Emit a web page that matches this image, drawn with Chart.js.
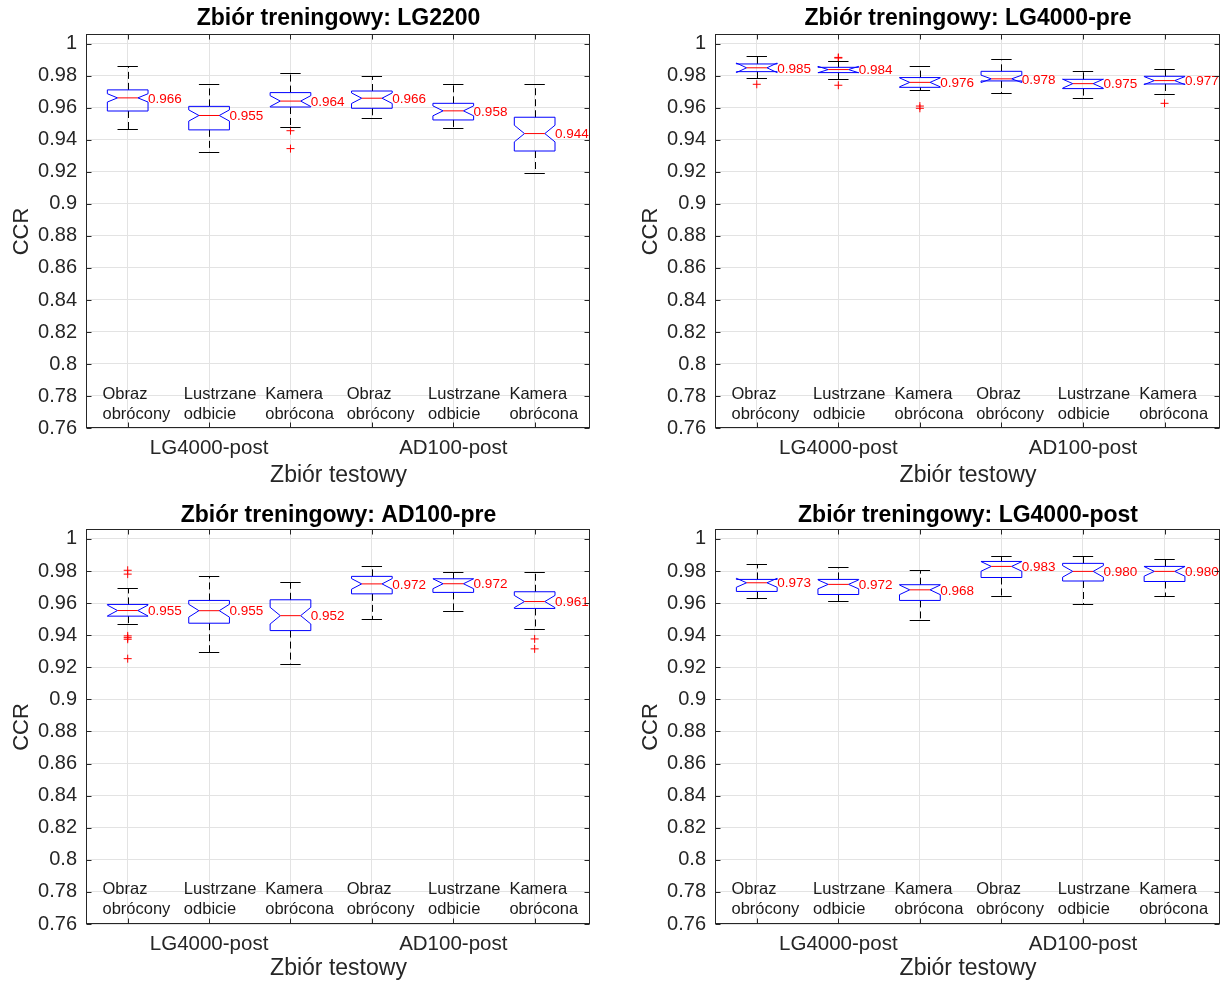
<!DOCTYPE html>
<html>
<head>
<meta charset="utf-8">
<script src="https://cdn.jsdelivr.net/npm/chart.js@4.4.0/dist/chart.umd.min.js"></script>
<style>
    html, body { margin: 0; padding: 0; background: #fff; overflow: hidden; }
    canvas { position: absolute; }
</style>
</head>
<body>
<canvas id="panel0"></canvas>
<canvas id="panel1"></canvas>
<canvas id="panel2"></canvas>
<canvas id="panel3"></canvas>
<script>
// categories (two text lines each) and group labels under the axis
const categories = [
    ['Obraz', 'obrócony'], ['Lustrzane', 'odbicie'], ['Kamera', 'obrócona'],
    ['Obraz', 'obrócony'], ['Lustrzane', 'odbicie'], ['Kamera', 'obrócona']
];
const groupLabels = ['LG4000-post', 'AD100-post'];
const yTicks = [0.76, 0.78, 0.8, 0.82, 0.84, 0.86, 0.88, 0.9, 0.92, 0.94, 0.96, 0.98, 1];
const titles = [
    'Zbiór treningowy: LG2200', 'Zbiór treningowy: LG4000-pre',
    'Zbiór treningowy: AD100-pre', 'Zbiór treningowy: LG4000-post'
];

// LG2200
const lg2200Hi = [0.9863, 0.9750, 0.9817, 0.9798, 0.9752, 0.9752];
const lg2200Q3 = [0.9713, 0.9610, 0.9696, 0.9706, 0.9629, 0.9542];
const lg2200Med = [0.9663, 0.9553, 0.9643, 0.9661, 0.9582, 0.9440];
const lg2200Q1 = [0.9581, 0.9463, 0.9606, 0.9598, 0.9525, 0.9331];
const lg2200Lo = [0.9469, 0.9327, 0.9483, 0.9535, 0.9473, 0.9192];
const lg2200Notch = [0.0026, 0.0035, 0.0034, 0.0033, 0.0031, 0.0052];
const lg2200Out = [[], [], [0.9458, 0.9346], [], [], []];

// LG4000-pre
const lg4000preHi = [0.9923, 0.9892, 0.9863, 0.9906, 0.9829, 0.9844];
const lg4000preQ3 = [0.9875, 0.9854, 0.9790, 0.9829, 0.9779, 0.9798];
const lg4000preMed = [0.9851, 0.9840, 0.9760, 0.9782, 0.9752, 0.9771];
const lg4000preQ1 = [0.9827, 0.9821, 0.9729, 0.9769, 0.9721, 0.9750];
const lg4000preLo = [0.9790, 0.9781, 0.9710, 0.9692, 0.9660, 0.9690];
const lg4000preNotch = [0.0030, 0.0020, 0.0028, 0.0023, 0.0028, 0.0025];
const lg4000preOut = [[0.9748], [0.9912, 0.9916, 0.9742], [0.9612, 0.9598], [], [], [0.9629]];

// AD100-pre
const ad100preHi = [0.9696, 0.9771, 0.9729, 0.9829, 0.9796, 0.9796];
const ad100preQ3 = [0.9592, 0.9617, 0.9621, 0.9767, 0.9752, 0.9671];
const ad100preMed = [0.9554, 0.9553, 0.9522, 0.9720, 0.9721, 0.9610];
const ad100preQ1 = [0.9519, 0.9475, 0.9429, 0.9658, 0.9667, 0.9567];
const ad100preLo = [0.9469, 0.9296, 0.9221, 0.9502, 0.9550, 0.9440];
const ad100preNotch = [0.0034, 0.0040, 0.0052, 0.0033, 0.0031, 0.0038];
const ad100preOut = [[0.9805, 0.9781, 0.9396, 0.9385, 0.9375, 0.9254], [], [], [], [], [0.9377, 0.9315]];

// LG4000-post
const lg4000postHi = [0.9844, 0.9827, 0.9808, 0.9892, 0.9892, 0.9877];
const lg4000postQ3 = [0.9748, 0.9748, 0.9715, 0.9860, 0.9848, 0.9829];
const lg4000postMed = [0.9727, 0.9717, 0.9683, 0.9829, 0.9798, 0.9798];
const lg4000postQ1 = [0.9673, 0.9654, 0.9617, 0.9760, 0.9738, 0.9735];
const lg4000postLo = [0.9631, 0.9615, 0.9492, 0.9644, 0.9596, 0.9644];
const lg4000postNotch = [0.0028, 0.0028, 0.0030, 0.0030, 0.0036, 0.0030];
const lg4000postOut = [[], [], [], [], [], []];

const FONT = "'Liberation Sans', Arial, Helvetica, sans-serif";
const AXIS_COLOR = '#262626';
const GRID_COLOR = '#e3e3e3';

const panels = [
    { id: 'panel0', left: 0, top: 0, w: 612, h: 490, area: { l: 87, t: 35, r: 590, b: 428 }, titleY: 19, ylabelX: 22,
      box: { hi: lg2200Hi, q3: lg2200Q3, med: lg2200Med, q1: lg2200Q1, lo: lg2200Lo, notch: lg2200Notch, out: lg2200Out } },
    { id: 'panel1', left: 612, top: 0, w: 613, h: 490, area: { l: 104, t: 35, r: 608, b: 428 }, titleY: 19, ylabelX: 39,
      box: { hi: lg4000preHi, q3: lg4000preQ3, med: lg4000preMed, q1: lg4000preQ1, lo: lg4000preLo, notch: lg4000preNotch, out: lg4000preOut } },
    { id: 'panel2', left: 0, top: 495, w: 612, h: 488, area: { l: 87, t: 35, r: 590, b: 429 }, titleY: 21, ylabelX: 22,
      box: { hi: ad100preHi, q3: ad100preQ3, med: ad100preMed, q1: ad100preQ1, lo: ad100preLo, notch: ad100preNotch, out: ad100preOut } },
    { id: 'panel3', left: 612, top: 495, w: 613, h: 488, area: { l: 104, t: 35, r: 608, b: 429 }, titleY: 21, ylabelX: 39,
      box: { hi: lg4000postHi, q3: lg4000postQ3, med: lg4000postMed, q1: lg4000postQ1, lo: lg4000postLo, notch: lg4000postNotch, out: lg4000postOut } }
];

const crisp = v => Math.round(v) + 0.5;

// draws notched boxes, whiskers, median labels, frame, inner ticks, category texts and title
const notchBoxPlugin = {
    id: 'notchBoxes',
    afterDatasetsDraw(chart, args, opts) {
        const { ctx, scales: { x, y } } = chart;
        const b = opts.box;
        ctx.save();
        ctx.lineWidth = 1;
        categories.forEach((cat, i) => {
            const c = i + 1;
            const xc = crisp(x.getPixelForValue(c));
            const xl = x.getPixelForValue(c - 0.25), xr = x.getPixelForValue(c + 0.25);
            const xil = x.getPixelForValue(c - 0.125), xir = x.getPixelForValue(c + 0.125);
            const yHi = crisp(y.getPixelForValue(b.hi[i])), yLo = crisp(y.getPixelForValue(b.lo[i]));
            const yQ3 = y.getPixelForValue(b.q3[i]), yQ1 = y.getPixelForValue(b.q1[i]);
            const yMed = y.getPixelForValue(b.med[i]);
            const yNhi = y.getPixelForValue(b.med[i] + b.notch[i]);
            const yNlo = y.getPixelForValue(b.med[i] - b.notch[i]);

            // whiskers
            ctx.strokeStyle = '#000';
            ctx.setLineDash([7, 4]);
            ctx.beginPath();
            ctx.moveTo(xc, yQ3); ctx.lineTo(xc, yHi);
            ctx.moveTo(xc, yQ1); ctx.lineTo(xc, yLo);
            ctx.stroke();
            ctx.setLineDash([]);
            ctx.beginPath();
            ctx.moveTo(xil, yHi); ctx.lineTo(xir, yHi);
            ctx.moveTo(xil, yLo); ctx.lineTo(xir, yLo);
            ctx.stroke();

            // notched box
            ctx.strokeStyle = '#0000ff';
            ctx.beginPath();
            ctx.moveTo(xl, yQ1);
            ctx.lineTo(xl, yNlo);
            ctx.lineTo(xil, yMed);
            ctx.lineTo(xl, yNhi);
            ctx.lineTo(xl, yQ3);
            ctx.lineTo(xr, yQ3);
            ctx.lineTo(xr, yNhi);
            ctx.lineTo(xir, yMed);
            ctx.lineTo(xr, yNlo);
            ctx.lineTo(xr, yQ1);
            ctx.closePath();
            ctx.stroke();

            // median
            ctx.strokeStyle = '#ff0000';
            ctx.beginPath();
            ctx.moveTo(xil, yMed); ctx.lineTo(xir, yMed);
            ctx.stroke();

            ctx.fillStyle = '#ff0000';
            ctx.font = '13.5px ' + FONT;
            ctx.textAlign = 'left';
            ctx.textBaseline = 'middle';
            ctx.fillText(b.med[i].toFixed(3), xr, yMed + 1);
        });
        ctx.restore();
    },
    afterDraw(chart, args, opts) {
        const { ctx, chartArea: a, scales: { x, y } } = chart;
        ctx.save();
        ctx.strokeStyle = AXIS_COLOR;
        ctx.lineWidth = 1;
        const L = crisp(a.left) - 1, R = crisp(a.right) - 1, T = crisp(a.top) - 1, B = crisp(a.bottom) - 1;
        ctx.strokeRect(L, T, R - L, B - T);
        ctx.beginPath();
        yTicks.forEach(v => {
            const py = crisp(y.getPixelForValue(v));
            ctx.moveTo(L, py); ctx.lineTo(L + 5, py);
            ctx.moveTo(R, py); ctx.lineTo(R - 5, py);
        });
        categories.forEach((cat, i) => {
            const px = crisp(x.getPixelForValue(i + 1));
            ctx.moveTo(px, B); ctx.lineTo(px, B - 5);
            ctx.moveTo(px, T); ctx.lineTo(px, T + 5);
        });
        ctx.stroke();

        ctx.fillStyle = '#1a1a1a';
        ctx.font = '16.5px ' + FONT;
        ctx.textAlign = 'left';
        ctx.textBaseline = 'middle';
        const yMid = y.getPixelForValue(0.775);
        categories.forEach((cat, i) => {
            const px = x.getPixelForValue(i + 1 - 0.31);
            ctx.fillText(cat[0], px, yMid - 10);
            ctx.fillText(cat[1], px, yMid + 10);
        });

        // title centred over the axes
        ctx.fillStyle = '#000';
        ctx.font = 'bold 23px ' + FONT;
        ctx.textAlign = 'center';
        ctx.fillText(opts.title, (a.left + a.right) / 2, opts.titleY);
        ctx.restore();
    }
};

function buildPanel(p, idx) {
    const canvas = document.getElementById(p.id);
    canvas.width = p.w;
    canvas.height = p.h;
    canvas.style.left = p.left + 'px';
    canvas.style.top = p.top + 'px';

    const outliers = [];
    p.box.out.forEach((vals, i) => vals.forEach(v => outliers.push({ x: i + 1, y: v })));

    const labelLine = 23 * 1.2;

    new Chart(canvas, {
        type: 'scatter',
        data: {
            datasets: [{
                data: outliers,
                pointStyle: 'cross',
                pointRadius: 4,
                borderColor: '#ff0000',
                borderWidth: 1,
                clip: false
            }]
        },
        options: {
            responsive: false,
            animation: false,
            events: [],
            layout: { padding: { left: 0, right: p.w - p.area.r, top: p.area.t, bottom: 0 } },
            plugins: {
                legend: { display: false },
                tooltip: { enabled: false },
                title: { display: false },
                notchBoxes: { box: p.box, title: titles[idx], titleY: p.titleY }
            },
            scales: {
                x: {
                    type: 'linear',
                    min: 0.5,
                    max: 6.68,
                    afterBuildTicks: s => { s.ticks = categories.map((c, i) => ({ value: i + 1 })); },
                    afterFit: s => { s.height = p.h - p.area.b; },
                    grid: { color: GRID_COLOR, drawTicks: false },
                    border: { display: false },
                    ticks: {
                        autoSkip: false,
                        maxRotation: 0,
                        padding: 8,
                        color: AXIS_COLOR,
                        font: { family: FONT, size: 20.5 },
                        callback: v => (v === 2 ? groupLabels[0] : v === 5 ? groupLabels[1] : '')
                    },
                    title: {
                        display: true,
                        text: 'Zbiór testowy',
                        color: AXIS_COLOR,
                        font: { family: FONT, size: 23 },
                        padding: { top: 0, bottom: 14 - labelLine / 2 }
                    }
                },
                y: {
                    min: 0.76,
                    max: 1.0056,
                    afterBuildTicks: s => { s.ticks = yTicks.map(v => ({ value: v })); },
                    afterFit: s => { s.width = p.area.l; },
                    grid: { color: GRID_COLOR, drawTicks: false },
                    border: { display: false },
                    ticks: {
                        padding: 10,
                        color: AXIS_COLOR,
                        font: { family: FONT, size: 20 },
                        callback: v => String(+v.toFixed(2))
                    },
                    title: {
                        display: true,
                        text: 'CCR',
                        color: AXIS_COLOR,
                        font: { family: FONT, size: 22 },
                        padding: { top: p.ylabelX - 22 * 1.2 / 2, bottom: 0 }
                    }
                }
            }
        },
        plugins: [notchBoxPlugin]
    });
}

panels.forEach(buildPanel);
</script>
</body>
</html>
